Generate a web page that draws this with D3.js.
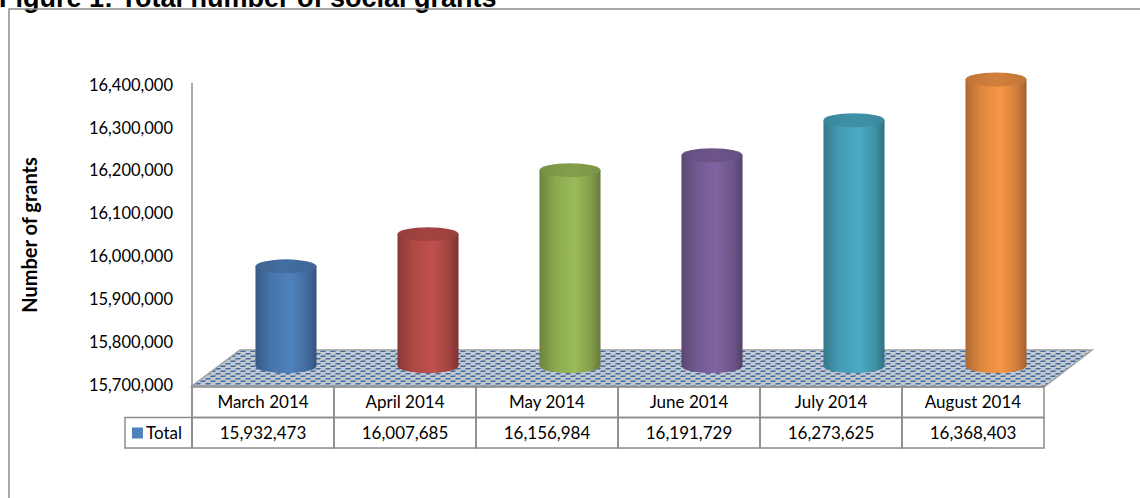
<!DOCTYPE html>
<html>
<head>
<meta charset="utf-8">
<script src="https://cdn.jsdelivr.net/npm/d3@7"></script>
<style>
  body { margin: 0; background: #fff; }
  svg { display: block; }
  .tick text { font-family: Lato, "Open Sans", sans-serif; font-size: 16.5px; fill: #000; }
</style>
</head>
<body>
<svg id="chart" width="1140" height="498"></svg>
<script>
// data
const months = ["March 2014", "April 2014", "May 2014", "June 2014", "July 2014", "August 2014"]
const totals = [15932473, 16007685, 16156984, 16191729, 16273625, 16368403]
const yTicks = [15700000, 15800000, 15900000, 16000000, 16100000, 16200000, 16300000, 16400000]
const seriesName = "Total"
const palette = ["#4F81BD", "#C0504D", "#9BBB59", "#8064A2", "#4BACC6", "#F79646"]

const svg = d3.select("#chart")
const gray = "#8c8c8c"
const font = 'Lato, "Open Sans", sans-serif'

// title, cut at the top edge like the original
svg.append("text")
  .attr("x", -1)
  .attr("y", 7)
  .attr("font-family", '"Liberation Sans", Arial, sans-serif')
  .attr("font-weight", "bold")
  .attr("font-size", "27px")
  .text("Figure 1: Total number of social grants")

// outer frame
svg.append("path")
  .attr("d", "M9,498 V9 H1140")
  .attr("fill", "none")
  .attr("stroke", gray)
  .attr("stroke-width", 1.5)

const x = d3.scaleBand().domain(months).range([192, 1044])
const y = d3.scaleLinear().domain([15700000, 16400000]).range([385, 85])

const depthX = 48, depthY = -36   // 3d floor depth
const midX = 23, midY = -19       // cylinders stand half way back

const defs = svg.append("defs")

// floor pattern, small blue weave on gray
const pat = defs.append("pattern")
  .attr("id", "weave")
  .attr("patternUnits", "userSpaceOnUse")
  .attr("width", 10)
  .attr("height", 5)
pat.append("rect").attr("width", 10).attr("height", 5).attr("fill", "#c4c9d0")
pat.append("path").attr("d", "M0,2 L1,0.5 L6,0.5 L5,2 Z").attr("fill", "#3f6ba3")
pat.append("path").attr("d", "M5,4.5 L6,3 L11,3 L10,4.5 Z").attr("fill", "#3f6ba3")
pat.append("path").attr("d", "M-5,4.5 L-4,3 L1,3 L0,4.5 Z").attr("fill", "#3f6ba3")

const y0 = y(15700000) + 1
const xl = x.range()[0], xr = x.range()[1]
svg.append("path")
  .attr("d", `M${xl},${y0} L${xr},${y0 + 1} L${xr + depthX},${y0 + depthY} L${xl + depthX},${y0 + depthY} Z`)
  .attr("fill", "url(#weave)")
  .attr("stroke", "#a0a0a0")
  .attr("stroke-width", 1.5)

// y axis
const yAxis = d3.axisLeft(y)
  .tickValues(yTicks)
  .tickSize(0)
  .tickPadding(19)
  .tickFormat(d3.format(","))

const axisG = svg.append("g")
  .attr("transform", `translate(${xl},0)`)
  .call(yAxis)
axisG.select(".domain").remove()

svg.append("line")
  .attr("x1", xl).attr("x2", xl)
  .attr("y1", y(16400000) - 2).attr("y2", 447)
  .attr("stroke", gray)
  .attr("stroke-width", 1.5)

svg.append("text")
  .attr("transform", "translate(37,235) rotate(-90)")
  .attr("text-anchor", "middle")
  .attr("font-family", font)
  .attr("font-weight", "bold")
  .attr("font-size", "20px")
  .text("Number of grants")

// cylinders
const rx = x.bandwidth() * 0.215
const ry = 7

palette.forEach((c, i) => {
  const g = defs.append("linearGradient").attr("id", "body" + i)
  g.append("stop").attr("offset", "0%").attr("stop-color", d3.color(c).darker(1))
  g.append("stop").attr("offset", "25%").attr("stop-color", d3.color(c).darker(0.3))
  g.append("stop").attr("offset", "58%").attr("stop-color", d3.color(c))
  g.append("stop").attr("offset", "85%").attr("stop-color", d3.color(c).darker(0.5))
  g.append("stop").attr("offset", "100%").attr("stop-color", d3.color(c).darker(1.2))
  const t = defs.append("linearGradient").attr("id", "top" + i)
  t.append("stop").attr("offset", "0%").attr("stop-color", d3.color(c).darker(0.7))
  t.append("stop").attr("offset", "50%").attr("stop-color", d3.color(c).darker(0.45))
  t.append("stop").attr("offset", "100%").attr("stop-color", d3.color(c).darker(0.65))
})

const cyl = svg.append("g").selectAll("g")
  .data(totals)
  .enter()
  .append("g")

cyl.append("path")
  .attr("d", (d, i) => {
    const cx = x(months[i]) + x.bandwidth() / 2 + midX
    const yb = y(15700000) + midY
    const yt = y(d) + midY
    return `M${cx - rx},${yt} V${yb} A${rx},${ry} 0 0 0 ${cx + rx},${yb} V${yt} Z`
  })
  .attr("fill", (d, i) => `url(#body${i})`)

cyl.append("ellipse")
  .attr("cx", (d, i) => x(months[i]) + x.bandwidth() / 2 + midX)
  .attr("cy", d => y(d) + midY)
  .attr("rx", rx)
  .attr("ry", ry)
  .attr("fill", (d, i) => `url(#top${i})`)

// data table under the chart
const tTop = y0 + 1, rowH = 30.5
const table = svg.append("g")

table.selectAll(".head")
  .data(months)
  .enter()
  .append("rect")
  .attr("x", d => x(d))
  .attr("y", tTop)
  .attr("width", x.bandwidth())
  .attr("height", rowH)
  .attr("fill", "none")
  .attr("stroke", gray)
  .attr("stroke-width", 1.5)

table.selectAll(".val")
  .data(months)
  .enter()
  .append("rect")
  .attr("x", d => x(d))
  .attr("y", tTop + rowH)
  .attr("width", x.bandwidth())
  .attr("height", rowH)
  .attr("fill", "none")
  .attr("stroke", gray)
  .attr("stroke-width", 1.5)

table.selectAll(".month")
  .data(months)
  .enter()
  .append("text")
  .attr("x", d => x(d) + x.bandwidth() / 2)
  .attr("y", tTop + rowH / 2)
  .attr("dy", "0.36em")
  .attr("text-anchor", "middle")
  .attr("font-family", font)
  .attr("font-size", "17px")
  .text(d => d)

table.selectAll(".num")
  .data(totals)
  .enter()
  .append("text")
  .attr("x", (d, i) => x(months[i]) + x.bandwidth() / 2)
  .attr("y", tTop + rowH * 1.5)
  .attr("dy", "0.36em")
  .attr("text-anchor", "middle")
  .attr("font-family", font)
  .attr("font-size", "17px")
  .text(d => d3.format(",")(d))

// legend key cell
table.append("rect")
  .attr("x", 125)
  .attr("y", tTop + rowH)
  .attr("width", xl - 125)
  .attr("height", rowH)
  .attr("fill", "none")
  .attr("stroke", gray)
  .attr("stroke-width", 1.5)

table.append("rect")
  .attr("x", 132)
  .attr("y", tTop + rowH + 10)
  .attr("width", 11)
  .attr("height", 11)
  .attr("fill", palette[0])

table.append("text")
  .attr("x", 146)
  .attr("y", tTop + rowH * 1.5)
  .attr("dy", "0.36em")
  .attr("font-family", font)
  .attr("font-size", "17px")
  .text(seriesName)
</script>
</body>
</html>
